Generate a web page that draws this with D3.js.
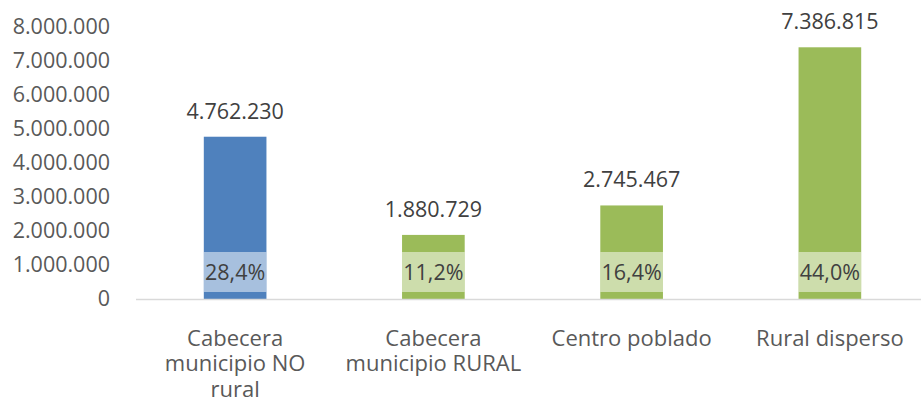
<!DOCTYPE html>
<html>
<head>
<meta charset="utf-8">
<script src="https://cdn.jsdelivr.net/npm/d3@7"></script>
<style>
  body { margin: 0; background: #fff; }
  svg { display: block; font-family: "Open Sans", sans-serif; }
</style>
</head>
<body>
<svg id="chart" width="921" height="409"></svg>
<script>
// chart data
const categories = ["Cabecera municipio NO rural", "Cabecera municipio RURAL", "Centro poblado", "Rural disperso"];
const categoryLines = [["Cabecera", "municipio NO", "rural"], ["Cabecera", "municipio RURAL"], ["Centro poblado"], ["Rural disperso"]];
const values = [4762230, 1880729, 2745467, 7386815];
const shares = ["28,4%", "11,2%", "16,4%", "44,0%"];
const barColors = ["#4F81BD", "#9BBB59", "#9BBB59", "#9BBB59"];
const yTicks = [0, 1000000, 2000000, 3000000, 4000000, 5000000, 6000000, 7000000, 8000000];

const svg = d3.select("#chart");
const width = 921, height = 409;
const marginLeft = 136, marginRight = -8, marginTop = 26.4, marginBottom = 110;

// spanish thousands separator
const fmt = d3.formatLocale({decimal: ",", thousands: ".", grouping: [3], currency: ["", ""]}).format(",d");

const x = d3.scaleBand()
    .domain(categories)
    .range([marginLeft, width - marginRight])
    .paddingInner(0.684)
    .paddingOuter(0.342);

const y = d3.scaleLinear()
    .domain([0, 8000000])
    .range([height - marginBottom, marginTop]);

// y axis labels (no line, no ticks)
svg.append("g")
    .attr("transform", `translate(${marginLeft - 26},0)`)
    .call(d3.axisLeft(y).tickValues(yTicks).tickFormat(fmt).tickSize(0).tickPadding(0))
    .call(g => g.select(".domain").remove())
    .call(g => g.selectAll("text")
        .attr("fill", "#595959")
        .attr("font-size", "21.5px")
        .attr("font-family", "Open Sans, sans-serif"));

// bars
svg.append("g")
    .selectAll("rect")
    .data(values)
    .join("rect")
    .attr("x", (d, i) => x(categories[i]))
    .attr("y", d => y(d))
    .attr("width", x.bandwidth())
    .attr("height", d => y(0) - y(d))
    .attr("fill", (d, i) => barColors[i]);

// baseline
svg.append("line")
    .attr("x1", marginLeft)
    .attr("x2", width)
    .attr("y1", y(0) + 0.5)
    .attr("y2", y(0) + 0.5)
    .attr("stroke", "#D9D9D9")
    .attr("stroke-width", 1.5);

// value labels
svg.append("g")
    .selectAll("text")
    .data(values)
    .join("text")
    .attr("x", (d, i) => x(categories[i]) + x.bandwidth() / 2)
    .attr("y", d => y(d) - 18)
    .attr("text-anchor", "middle")
    .attr("fill", "#404040")
    .attr("font-size", "21.5px")
    .text(d => fmt(d));

// share labels with light box
const share = svg.append("g")
    .selectAll("g")
    .data(shares)
    .join("g")
    .attr("transform", (d, i) => `translate(${x(categories[i])},${y(0) - 47})`);

share.append("rect")
    .attr("width", x.bandwidth())
    .attr("height", 40)
    .attr("fill", "#fff")
    .attr("fill-opacity", 0.5);

share.append("text")
    .attr("x", x.bandwidth() / 2)
    .attr("y", 28)
    .attr("text-anchor", "middle")
    .attr("fill", "#404040")
    .attr("font-size", "21.5px")
    .text(d => d);

// category labels
const cat = svg.append("g")
    .selectAll("text")
    .data(categoryLines)
    .join("text")
    .attr("x", (d, i) => x(categories[i]) + x.bandwidth() / 2)
    .attr("y", y(0) + 46.5)
    .attr("text-anchor", "middle")
    .attr("fill", "#595959")
    .attr("font-size", "22px");

cat.selectAll("tspan")
    .data(d => d)
    .join("tspan")
    .attr("x", function() { return d3.select(this.parentNode).attr("x"); })
    .attr("dy", (d, i) => i === 0 ? 0 : 25.5)
    .text(d => d);
</script>
</body>
</html>
